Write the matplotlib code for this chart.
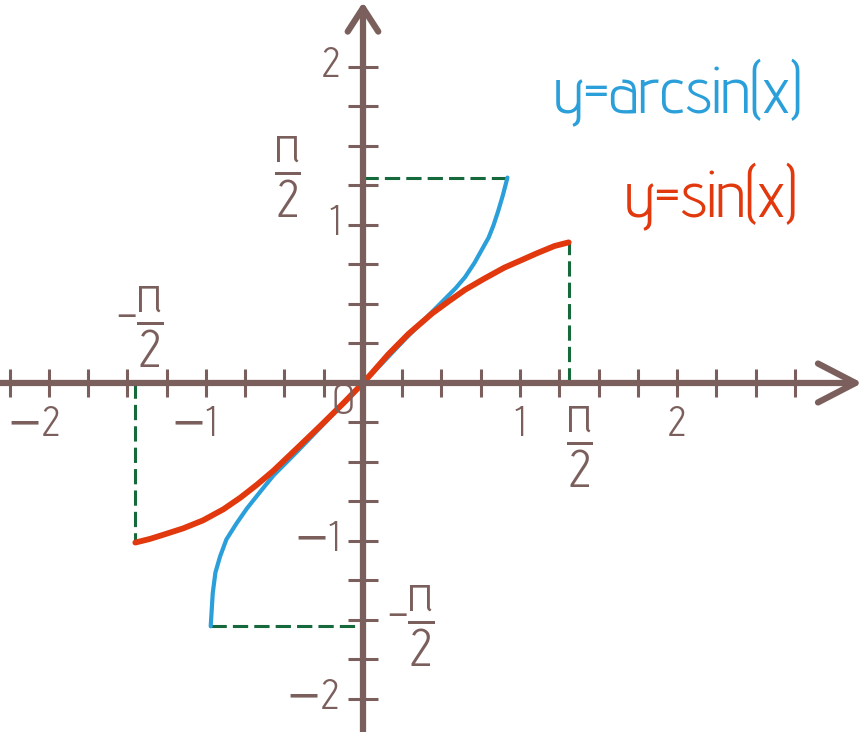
import numpy as np
import matplotlib
matplotlib.use("Agg")
import matplotlib.pyplot as plt

# values (axis units)
sin_x = [-1.45, -1.357, -1.27, -1.145, -1.02, -0.89, -0.78, -0.677, -0.57, -0.422, -0.27, -0.125,
         0.0, 0.055, 0.16, 0.289, 0.44, 0.543, 0.65, 0.777, 0.90, 1.01, 1.11, 1.22, 1.31]
sin_y = [-1.01, -0.987, -0.96, -0.92, -0.87, -0.80, -0.725, -0.645, -0.555, -0.415, -0.27, -0.128,
         0.0, 0.061, 0.18, 0.31, 0.44, 0.515, 0.59, 0.663, 0.73, 0.778, 0.822, 0.867, 0.89]
asin_x = [-0.97, -0.965, -0.957, -0.94, -0.911, -0.87, -0.805, -0.74, -0.656, -0.57, -0.42, -0.27,
          -0.125, 0.0, 0.125, 0.27, 0.44, 0.50, 0.59, 0.65, 0.71, 0.756, 0.80, 0.83, 0.86, 0.89, 0.92]
asin_y = [-1.54, -1.46, -1.33, -1.20, -1.10, -0.99, -0.888, -0.795, -0.69, -0.585, -0.435, -0.28,
          -0.128, 0.0, 0.128, 0.28, 0.45, 0.51, 0.60, 0.67, 0.76, 0.842, 0.92, 0.995, 1.085, 1.185, 1.30]

x_ticks = np.arange(-2.25, 2.76, 0.25)
y_ticks = np.arange(-2.0, 2.01, 0.25)
x_labels = {-2: "\u22122", -1: "\u22121", 1: "1", 2: "2"}
y_labels = {2: "2", 1: "1", -1: "\u22121", -2: "\u22122"}

axis_c = "#7b5f5c"
blue = "#2a9fd9"
red = "#e2380e"
green = "#16693a"
font = ["Advent Pro", "DejaVu Sans"]

plt.rcParams["font.family"] = font
plt.rcParams["mathtext.fontset"] = "custom"
plt.rcParams["mathtext.rm"] = "Advent Pro"
plt.rcParams["mathtext.it"] = "Advent Pro"

fig = plt.figure(figsize=(8.64, 7.32), dpi=100)
ax = fig.add_axes([0, 0, 1, 1])
ax.set_xlim(-2.312, 3.191)
ax.set_ylim(-2.209, 2.424)
ax.axis("off")

# axes with open arrow heads
ax.annotate("", xy=(3.18, 0), xytext=(-2.312, 0),
            arrowprops=dict(arrowstyle="->,head_length=27,head_width=14", lw=4.5, color=axis_c,
                            mutation_scale=1, shrinkA=0, shrinkB=0))
ax.annotate("", xy=(0, 2.41), xytext=(0, -2.209),
            arrowprops=dict(arrowstyle="->,head_length=17,head_width=11", lw=4.5, color=axis_c,
                            mutation_scale=1, shrinkA=0, shrinkB=0))

tx = x_ticks[np.abs(x_ticks) > 1e-9]
ty = y_ticks[np.abs(y_ticks) > 1e-9]
ax.plot(tx, np.zeros_like(tx), ls="none", marker="|", ms=20, mew=2.2, color=axis_c)
ax.plot(np.zeros_like(ty), ty, ls="none", marker="_", ms=22, mew=2.2, color=axis_c)

for v, s in x_labels.items():
    if v < 0:
        ax.text(v + 0.07, -0.27, s, ha="right", va="center", fontsize=31, color=axis_c)
    else:
        ax.text(v, -0.27, s, ha="center", va="center", fontsize=31, color=axis_c)
for v, s in y_labels.items():
    ax.text(-0.15, v, s, ha="right", va="center", fontsize=31, color=axis_c)
ax.text(-0.127, -0.127, "0", ha="center", va="center", fontsize=31, color=axis_c)

# dashed guides at the curve ends
dash = dict(color=green, lw=2.2, ls=(0, (5, 2)))
ax.plot([sin_x[0], sin_x[0]], [0, sin_y[0]], **dash)
ax.plot([sin_x[-1], sin_x[-1]], [0, sin_y[-1]], **dash)
ax.plot([asin_x[0], 0], [asin_y[0], asin_y[0]], **dash)
ax.plot([0, asin_x[-1]], [asin_y[-1], asin_y[-1]], **dash)

ax.plot(asin_x, asin_y, color=blue, lw=3, solid_capstyle="round", solid_joinstyle="round")
ax.plot(sin_x, sin_y, color=red, lw=4.2, solid_capstyle="round", solid_joinstyle="round")

# pi/2 labels
frac = r"$\dfrac{\pi}{2}$"
ax.text(-0.48, asin_y[-1], frac, ha="center", va="center", fontsize=38, color=axis_c)
ax.text(1.38, -0.405, frac, ha="center", va="center", fontsize=38, color=axis_c)
ax.text(-1.42, 0.354, "-" + frac, ha="center", va="center", fontsize=38, color=axis_c)
ax.text(0.306, asin_y[0], "-" + frac, ha="center", va="center", fontsize=38, color=axis_c)

ax.text(2.006, 1.835, "y=arcsin(x)", ha="center", va="center", fontsize=47, color=blue)
ax.text(2.22, 1.18, "y=sin(x)", ha="center", va="center", fontsize=47, color=red)

fig.savefig("out.png", dpi=100)
